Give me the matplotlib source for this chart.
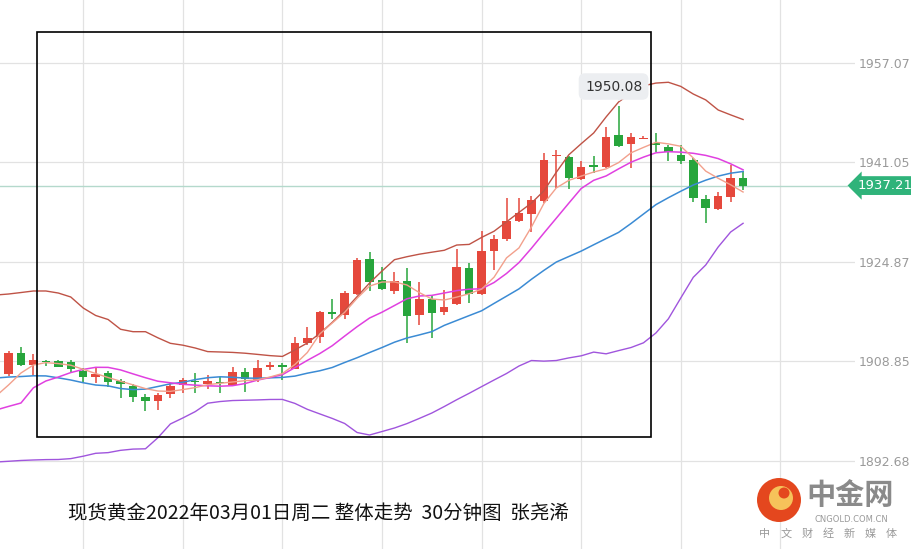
import numpy as np
import matplotlib
matplotlib.use("Agg")
import matplotlib.pyplot as plt
from matplotlib.patches import Rectangle, Circle

plt.rcParams['font.family'] = ['Noto Sans CJK SC', 'DejaVu Sans']

# 30 minute candles, gold spot, 2022-03-01
opens = [1906.75, 1910.10, 1908.20, 1908.85, 1908.85, 1908.74, 1907.28, 1906.31, 1906.86, 1905.62,
         1904.81, 1902.98, 1902.43, 1903.47, 1904.97, 1905.62, 1905.13, 1905.50, 1904.97, 1907.02,
         1905.78, 1907.83, 1908.25, 1907.56, 1911.81, 1912.68, 1916.77, 1916.29, 1919.68, 1925.29,
         1921.95, 1920.22, 1921.78, 1916.29, 1918.83, 1916.82, 1918.02, 1923.84, 1919.63, 1926.68,
         1928.57, 1931.53, 1932.62, 1934.77, 1941.99, 1941.78, 1938.22, 1940.54, 1940.16, 1945.39,
         1943.93, 1944.79, 1944.14, 1943.40, 1942.15, 1941.34, 1934.99, 1933.38, 1935.41, 1938.39]
highs = [1910.47, 1911.16, 1909.98, 1909.01, 1909.01, 1909.01, 1907.67, 1907.93, 1907.28, 1905.89,
         1905.13, 1903.47, 1903.63, 1905.25, 1906.05, 1906.86, 1906.59, 1906.31, 1907.93, 1907.67,
         1909.01, 1908.74, 1908.58, 1912.78, 1914.30, 1916.98, 1918.87, 1920.22, 1925.45, 1926.42,
         1924.10, 1923.19, 1923.84, 1921.67, 1919.36, 1920.33, 1926.91, 1924.74, 1929.87, 1929.22,
         1935.15, 1935.25, 1935.52, 1942.43, 1942.96, 1941.99, 1941.18, 1941.99, 1946.63, 1950.08,
         1945.66, 1945.27, 1945.66, 1943.77, 1943.77, 1941.62, 1935.69, 1936.22, 1940.54, 1939.57]
lows = [1906.43, 1908.04, 1906.59, 1908.04, 1907.88, 1907.12, 1905.25, 1905.25, 1904.60, 1902.82,
        1902.27, 1900.82, 1900.93, 1902.82, 1903.63, 1903.73, 1904.28, 1903.73, 1904.81, 1903.89,
        1905.50, 1907.40, 1905.78, 1907.48, 1911.44, 1911.81, 1915.59, 1915.59, 1919.60, 1920.22,
        1920.33, 1919.68, 1911.81, 1914.67, 1912.52, 1916.29, 1917.90, 1918.28, 1919.52, 1923.56,
        1928.30, 1931.37, 1929.75, 1934.35, 1936.77, 1936.61, 1938.11, 1939.19, 1940.08, 1943.40,
        1940.00, 1944.79, 1942.69, 1941.23, 1940.65, 1934.60, 1931.11, 1933.26, 1934.51, 1936.50]
closes = [1910.19, 1908.20, 1909.01, 1908.74, 1907.93, 1907.51, 1906.31, 1906.75, 1905.50, 1905.08,
          1903.08, 1902.43, 1903.35, 1904.81, 1905.78, 1905.41, 1905.67, 1905.25, 1907.02, 1905.89,
          1907.67, 1908.25, 1907.83, 1911.81, 1912.52, 1916.82, 1916.40, 1919.80, 1925.18, 1921.67,
          1920.44, 1921.83, 1916.17, 1918.87, 1916.66, 1917.53, 1924.00, 1919.68, 1926.63, 1928.53,
          1931.53, 1932.73, 1934.88, 1941.34, 1942.15, 1938.39, 1940.16, 1940.16, 1945.11, 1943.66,
          1945.01, 1944.90, 1943.77, 1942.69, 1941.23, 1935.15, 1933.54, 1935.57, 1938.39, 1937.21]

# indicator lines, one value per candle starting one bar before the first visible candle
boll_upper = [1919.52, 1919.68, 1919.92, 1920.17, 1920.17, 1919.84, 1919.20, 1917.42, 1916.21, 1915.56,
              1913.98, 1913.59, 1913.59, 1912.60, 1911.71, 1911.41, 1910.95, 1910.37, 1910.31, 1910.24,
              1910.11, 1909.92, 1909.72, 1909.59, 1910.63, 1911.76, 1913.31, 1915.09, 1917.05, 1919.26,
              1921.46, 1923.40, 1925.23, 1925.71, 1926.12, 1926.44, 1926.75, 1927.60, 1927.70, 1928.83,
              1929.83, 1931.35, 1932.87, 1934.38, 1936.35, 1939.37, 1942.18, 1943.98, 1945.71, 1948.31,
              1950.72, 1952.18, 1953.34, 1953.78, 1953.91, 1953.24, 1952.01, 1951.06, 1949.43, 1948.64,
              1947.89]
boll_mid = [1906.10, 1906.26, 1906.34, 1906.46, 1906.44, 1906.13, 1905.78, 1905.34, 1904.97, 1904.83,
            1904.40, 1904.23, 1904.31, 1904.73, 1905.16, 1905.41, 1905.84, 1906.15, 1906.30, 1906.22,
            1906.09, 1906.07, 1906.13, 1906.20, 1906.41, 1906.88, 1907.27, 1907.80, 1908.61, 1909.38,
            1910.22, 1911.03, 1911.89, 1912.57, 1913.07, 1913.60, 1914.61, 1915.40, 1916.19, 1916.97,
            1918.16, 1919.33, 1920.51, 1922.06, 1923.50, 1924.85, 1925.74, 1926.62, 1927.64, 1928.64,
            1929.64, 1931.08, 1932.61, 1934.13, 1935.25, 1936.30, 1937.30, 1938.08, 1938.74, 1939.21,
            1939.49]
boll_lower = [1892.52, 1892.64, 1892.77, 1892.85, 1892.91, 1892.93, 1893.07, 1893.46, 1893.93, 1894.04,
              1894.41, 1894.61, 1894.66, 1896.45, 1898.67, 1899.64, 1900.67, 1902.03, 1902.30, 1902.46,
              1902.51, 1902.56, 1902.63, 1902.64, 1902.00, 1901.04, 1900.30, 1899.57, 1898.75, 1897.29,
              1896.89, 1897.45, 1898.02, 1898.73, 1899.57, 1900.44, 1901.49, 1902.59, 1903.63, 1904.71,
              1905.78, 1906.83, 1908.04, 1908.93, 1908.83, 1908.93, 1909.35, 1909.69, 1910.29, 1910.01,
              1910.53, 1911.03, 1911.79, 1913.38, 1915.67, 1919.05, 1922.38, 1924.37, 1927.28, 1929.70,
              1931.11]
ma10 = [1900.93, 1901.51, 1902.06, 1904.52, 1905.62, 1906.26, 1906.98, 1907.49, 1907.83, 1907.82,
        1907.41, 1906.77, 1906.15, 1905.58, 1905.33, 1905.08, 1904.95, 1904.84, 1904.78, 1904.86,
        1905.21, 1905.76, 1906.18, 1906.64, 1907.78, 1908.95, 1910.05, 1911.32, 1912.88, 1914.40,
        1915.80, 1916.74, 1917.82, 1918.91, 1919.36, 1919.46, 1919.84, 1920.23, 1920.46, 1920.52,
        1921.54, 1923.00, 1924.76, 1927.07, 1929.53, 1931.94, 1934.36, 1936.74, 1938.06, 1938.77,
        1939.91, 1940.99, 1941.81, 1942.51, 1942.69, 1942.61, 1942.43, 1942.09, 1941.57, 1940.73,
        1939.76]
ma5 = [1903.19, 1904.97, 1906.91, 1908.20, 1908.59, 1908.43, 1908.17, 1907.51, 1906.83, 1906.18,
       1905.58, 1905.00, 1904.39, 1904.00, 1903.94, 1904.23, 1904.55, 1905.02, 1905.25, 1905.46,
       1905.67, 1905.81, 1906.26, 1906.83, 1908.28, 1910.22, 1913.22, 1914.99, 1916.72, 1919.00,
       1920.96, 1921.62, 1921.64, 1921.14, 1919.91, 1918.87, 1918.71, 1919.18, 1919.73, 1920.47,
       1922.40, 1925.52, 1927.13, 1930.51, 1934.31, 1936.83, 1938.05, 1938.74, 1939.40, 1939.91,
       1940.92, 1942.51, 1943.38, 1944.21, 1943.95, 1943.56, 1941.67, 1939.55, 1938.39, 1937.34,
       1936.17]

ytick_vals = [1957.07, 1941.05, 1924.87, 1908.85, 1892.68]
last_price = 1937.21
peak_price = 1950.08
title = "现货黄金2022年03月01日周二 整体走势  30分钟图  张尧浠"

W, H = 912, 549
fig = plt.figure(figsize=(W / 100, H / 100), dpi=100)
ax = fig.add_axes([0, 0, 855 / W, 1])

idx = np.arange(len(opens))
line_idx = np.arange(-1, len(opens))
o = np.array(opens); c = np.array(closes)
up = c >= o
red, green = '#e5483c', '#27a53c'
colors = np.where(up, red, green)

ax.vlines(idx, lows, highs, colors=colors, lw=1.1, zorder=3)
body_lo = np.minimum(o, c)
body_h = np.maximum(np.abs(c - o), 0.18)
ax.bar(idx, body_h, bottom=body_lo, width=0.68, color=colors, zorder=3)

ax.plot(line_idx, boll_upper, color='#bf5346', lw=1.0, zorder=4)
ax.plot(line_idx, boll_mid, color='#3b8bd4', lw=1.1, zorder=4)
ax.plot(line_idx, boll_lower, color='#a055dd', lw=1.0, zorder=4)
ax.plot(line_idx, ma10, color='#e040e0', lw=1.1, zorder=4)
ax.plot(line_idx, ma5, color='#f2a08c', lw=1.0, zorder=4)

ax.set_xlim(-0.683, 67.99)
ax.set_ylim(1878.46, 1967.21)
ax.set_xticks([6, 14, 22, 30, 38, 46, 54, 62])
ax.set_yticks(ytick_vals)
ax.set_yticklabels([f"{v:.2f}" for v in ytick_vals])
ax.grid(True, color='#e2e2e2', lw=0.9, zorder=0)
ax.tick_params(axis='x', length=0, labelbottom=False)
ax.tick_params(axis='y', length=0, pad=3, labelleft=False, labelright=True,
               labelcolor='#9a9a9a', labelsize=9)
for lab in ax.get_yticklabels():
    lab.set_family('DejaVu Sans')
for s in ax.spines.values():
    s.set_visible(False)
ax.set_facecolor('white')

# last price line and tag
ax.axhline(last_price, color='#b4d9cc', lw=1.0, zorder=2, xmax=(847 / 855))
ax.annotate(f"{last_price:.2f}", xy=(1.0, last_price), xycoords=('axes fraction', 'data'),
            xytext=(2, 0), textcoords='offset points', ha='left', va='center',
            color='white', fontsize=9.5, family='DejaVu Sans', annotation_clip=False,
            bbox=dict(boxstyle='larrow,pad=0.22', fc='#2fb37a', ec='none'))

# peak label
ax.annotate(f"{peak_price:.2f}", xy=(48.6, peak_price), xytext=(0, 14),
            textcoords='offset points', ha='center', va='center', color='#333333',
            fontsize=10, family='DejaVu Sans', zorder=6,
            bbox=dict(boxstyle='round,pad=0.45', fc='#eceef1', ec='none'))
ax.plot([49.0], [peak_price + 1.7], marker='v', ms=7, color='#eceef1', zorder=5)

# black frame
fig.add_artist(Rectangle((37 / W, 1 - 437 / H), (651 - 37) / W, (437 - 32) / H,
                         transform=fig.transFigure, fill=False, ec='black', lw=1.2))

fig.text(68 / W, 1 - 513 / H, title, fontsize=14, color='#111111', va='center', ha='left')

# logo
inch = fig.dpi_scale_trans
fig.add_artist(Circle((7.79, (H - 500) / 100), 0.22, transform=inch, fc='#e4471e', ec='none'))
fig.add_artist(Circle((7.81, (H - 498) / 100), 0.12, transform=inch, fc='#f6c25a', ec='none'))
fig.add_artist(Circle((7.84, (H - 493) / 100), 0.055, transform=inch, fc='#e4471e', ec='none'))
fig.text(850 / W, 1 - 495 / H, "中金网", fontsize=21, fontweight='bold', color='#8a8a8a',
         ha='center', va='center')
fig.text(851 / W, 1 - 520 / H, "CNGOLD.COM.CN", fontsize=6, color='#9a9a9a',
         ha='center', va='center', family='DejaVu Sans')
for k, ch in enumerate("中文财经新媒体"):
    fig.text((765 + k * 21) / W, 1 - 534 / H, ch, fontsize=8, color='#9a9a9a',
             ha='center', va='center')

fig.savefig('out.png', dpi=100)
